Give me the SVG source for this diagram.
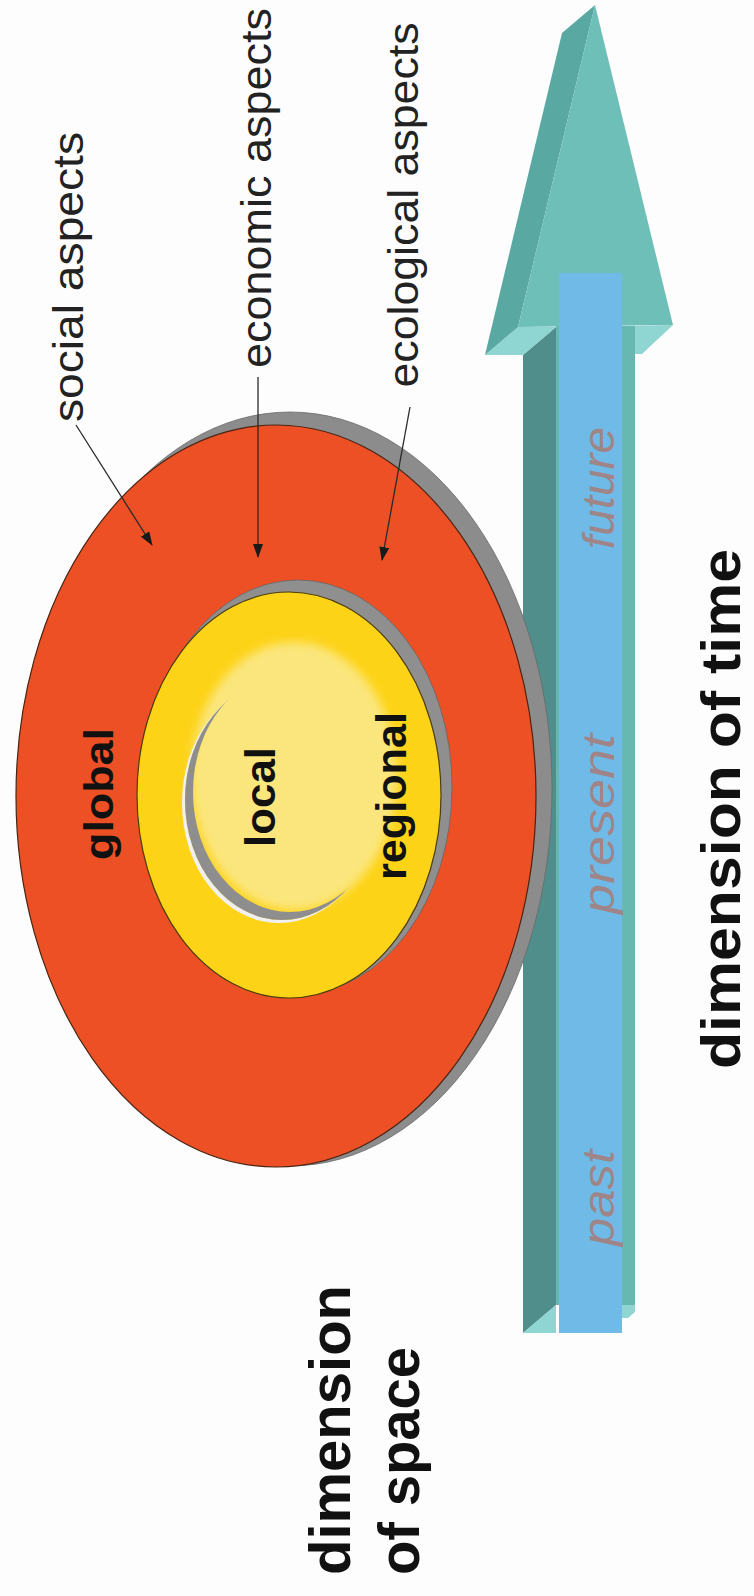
<svg xmlns="http://www.w3.org/2000/svg" width="754" height="1596" viewBox="0 0 754 1596">
<style>
.lbl{font-family:"Liberation Sans",Arial,sans-serif;fill:#222;text-anchor:middle}
.bold{font-family:"Liberation Sans",Arial,sans-serif;font-weight:bold;fill:#111}
.time{font-family:"Liberation Sans",Arial,sans-serif;font-style:italic;fill:#9f8587;text-anchor:middle}
.lead{stroke:#2a2a2a;stroke-width:1.3;fill:none;marker-end:url(#ah)}
</style>
<defs>
<marker id="ah" viewBox="0 0 14 10" refX="13" refY="5" markerWidth="14" markerHeight="10" markerUnits="userSpaceOnUse" orient="auto">
<path d="M0,0 L14,5 L0,10 Z" fill="#1a1a1a"/>
</marker>
<filter id="soft" x="-20%" y="-20%" width="140%" height="140%"><feGaussianBlur stdDeviation="5"/></filter>
<mask id="cres1" maskUnits="userSpaceOnUse" x="0" y="0" width="754" height="1596">
<ellipse cx="282" cy="800" rx="97" ry="120" fill="#fff"/>
<ellipse cx="290" cy="792" rx="97" ry="120" fill="#000"/>
</mask>
<mask id="cres0" maskUnits="userSpaceOnUse" x="0" y="0" width="754" height="1596">
<ellipse cx="279" cy="803" rx="97" ry="120" fill="#fff"/>
<ellipse cx="282" cy="800" rx="97" ry="120" fill="#000"/>
</mask>
</defs>
<rect width="754" height="1596" fill="#fdfdfd"/>

<g id="time-arrow">
<polygon points="523,355 556,327 556,1305 523,1333" fill="#4f8e8a"/>
<polygon points="523,1333 556,1305 556,1333" fill="#8fd5d1"/>
<polygon points="485,355 518,327 556,327 523,355" fill="#8fd5d1"/>
<polygon points="635,326 673,325 642,354 635,354" fill="#8fd5d1"/>
<polygon points="562,33 595,5 518,327 485,355" fill="#5aa8a2"/>
<polygon points="595,5 673,325 518,327" fill="#6dbfb8"/>
<rect x="556" y="326" width="79" height="979" fill="#66b8b1"/>
<polygon points="622,1305 635,1305 635,1312 628,1318 622,1318" fill="#8fd5d1"/>
<rect x="559" y="273" width="63" height="1060" fill="#6fbae6"/>
</g>

<g id="global">
<ellipse cx="290" cy="789" rx="262" ry="377" fill="#8c8c8c" stroke="#6a6a6a" stroke-width="0.8"/>
<ellipse cx="276" cy="796" rx="260" ry="371" fill="#ec5024" stroke="#4a2412" stroke-width="1.2"/>
<text class="bold" font-size="41" text-anchor="middle" textLength="132" lengthAdjust="spacingAndGlyphs" transform="translate(113,794) rotate(-90)">global</text>
</g>

<g id="regional">
<ellipse cx="298" cy="787" rx="154" ry="207" fill="#8f8f8f" stroke="#666" stroke-width="0.8"/>
<ellipse cx="289" cy="795" rx="152" ry="203" fill="#fdd317" stroke="#4d3d0c" stroke-width="1.2"/>
</g>

<g id="local">
<ellipse cx="294" cy="776" rx="103" ry="134" fill="#fbe67d" filter="url(#soft)"/>
<rect x="170" y="660" width="200" height="280" fill="#f0f0f0" mask="url(#cres0)"/>
<rect x="170" y="660" width="200" height="280" fill="#8e8e8e" mask="url(#cres1)"/>
<text class="bold" font-size="42" text-anchor="middle" textLength="100" lengthAdjust="spacingAndGlyphs" transform="translate(275,797) rotate(-90)">local</text>
</g>

<g id="regional-label">
<text class="bold" font-size="42" text-anchor="middle" textLength="168" lengthAdjust="spacingAndGlyphs" transform="translate(406,796) rotate(-90)">regional</text>
</g>

<g id="connectors">
<line class="lead" x1="76" y1="425" x2="152" y2="545"/>
<line class="lead" x1="258" y1="377" x2="258" y2="557"/>
<line class="lead" x1="410" y1="407" x2="382" y2="560"/>
</g>

<g id="aspect-labels">
<text class="lbl" font-size="43" textLength="290" lengthAdjust="spacingAndGlyphs" transform="translate(83,277) rotate(-90)">social aspects</text>
<text class="lbl" font-size="43" textLength="360" lengthAdjust="spacingAndGlyphs" transform="translate(271,188) rotate(-90)">economic aspects</text>
<text class="lbl" font-size="43" textLength="365" lengthAdjust="spacingAndGlyphs" transform="translate(418,205) rotate(-90)">ecological aspects</text>
</g>

<g id="time-labels">
<text class="time" font-size="44" textLength="122" lengthAdjust="spacingAndGlyphs" transform="translate(614,488) rotate(-90)">future</text>
<text class="time" font-size="44" textLength="180" lengthAdjust="spacingAndGlyphs" transform="translate(614,824) rotate(-90)">present</text>
<text class="time" font-size="44" textLength="96" lengthAdjust="spacingAndGlyphs" transform="translate(614,1198) rotate(-90)">past</text>
</g>

<g id="dimension-time">
<text class="bold" font-size="55" text-anchor="middle" textLength="520" lengthAdjust="spacingAndGlyphs" transform="translate(740,809) rotate(-90)">dimension of time</text>
</g>

<g id="dimension-space">
<text class="bold" font-size="57" text-anchor="start" textLength="290" lengthAdjust="spacingAndGlyphs" transform="translate(350,1575) rotate(-90)">dimension</text>
<text class="bold" font-size="57" text-anchor="start" textLength="228" lengthAdjust="spacingAndGlyphs" transform="translate(419,1575) rotate(-90)">of space</text>
</g>
</svg>
